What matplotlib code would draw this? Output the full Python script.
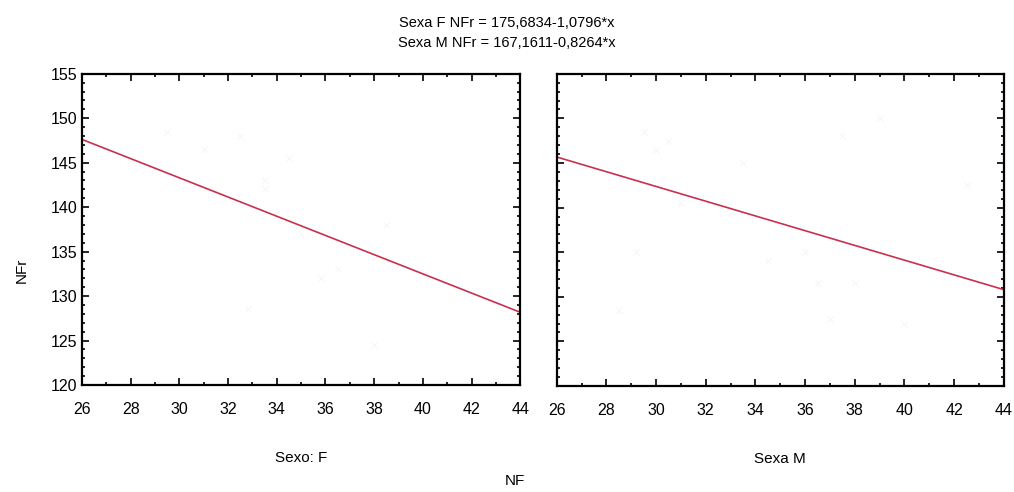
import numpy as np
import matplotlib.pyplot as plt
from matplotlib.ticker import MultipleLocator

plt.rcParams['font.family'] = ['Liberation Sans', 'DejaVu Sans']

# regression coefficients (intercept, slope) for each group
groups = ['Sexo: F', 'Sexa M']
intercepts = [175.6834, 167.1611]
slopes = [-1.0796, -0.8264]
subtitle_lines = ['Sexa F NFr = 175,6834-1,0796*x', 'Sexa M NFr = 167,1611-0,8264*x']

# very faint raw points (barely visible in the scan)
f_x = [29.5, 31.0, 32.5, 33.5, 34.5, 35.0, 36.5, 38.0, 38.5, 40.0, 33.5, 32.8, 35.8]
f_y = [148.5, 146.5, 148.0, 143.0, 145.5, 137.0, 133.0, 124.5, 138.0, 132.5, 142.0, 128.5, 132.0]
m_x = [28.5, 29.5, 30.0, 30.5, 31.0, 33.5, 34.5, 36.5, 37.0, 37.5, 38.0, 39.0, 40.0, 42.5, 29.2, 36.0]
m_y = [128.5, 148.5, 146.5, 147.5, 140.5, 145.0, 134.0, 131.5, 127.5, 148.0, 131.5, 150.0, 127.0, 142.5, 135.0, 135.0]
points_x = [f_x, m_x]
points_y = [f_y, m_y]

fig = plt.figure(figsize=(10.14, 4.92), dpi=100)
ax_pos = [[0.081, 0.2175, 0.432, 0.6325], [0.549, 0.2155, 0.441, 0.6345]]

xs = np.linspace(26, 44, 50)
for i in range(2):
    ax = fig.add_axes(ax_pos[i])
    ax.scatter(points_x[i], points_y[i], marker='x', s=20, color='#f6f6f6', linewidths=0.8, zorder=1)
    ax.plot(xs, intercepts[i] + slopes[i] * xs, color='#c8304e', linewidth=1.2, zorder=2)
    ax.set_xlim(26, 44)
    ax.set_ylim(120, 155)
    ax.xaxis.set_major_locator(MultipleLocator(2))
    ax.xaxis.set_minor_locator(MultipleLocator(1))
    ax.yaxis.set_major_locator(MultipleLocator(5))
    ax.yaxis.set_minor_locator(MultipleLocator(1))
    ax.tick_params(which='both', direction='in', top=True, right=True, width=1.2, colors='black')
    ax.tick_params(which='major', length=5, labelsize=11.5)
    ax.tick_params(which='minor', length=2.5)
    ax.tick_params(axis='x', pad=12)
    for sp in ax.spines.values():
        sp.set_linewidth(1.6)
    if i == 1:
        ax.set_yticklabels([])
    ax.set_xlabel(groups[i], fontsize=11, labelpad=25)

fig.text(0.0215, 0.45, 'NFr', rotation=90, ha='center', va='center', fontsize=11)
fig.text(0.508, 0.022, 'NF', ha='center', va='center', fontsize=11)
fig.text(0.5, 0.953, subtitle_lines[0], ha='center', va='center', fontsize=10.5)
fig.text(0.5, 0.913, subtitle_lines[1], ha='center', va='center', fontsize=10.5)

fig.savefig('out.png', dpi=100)
